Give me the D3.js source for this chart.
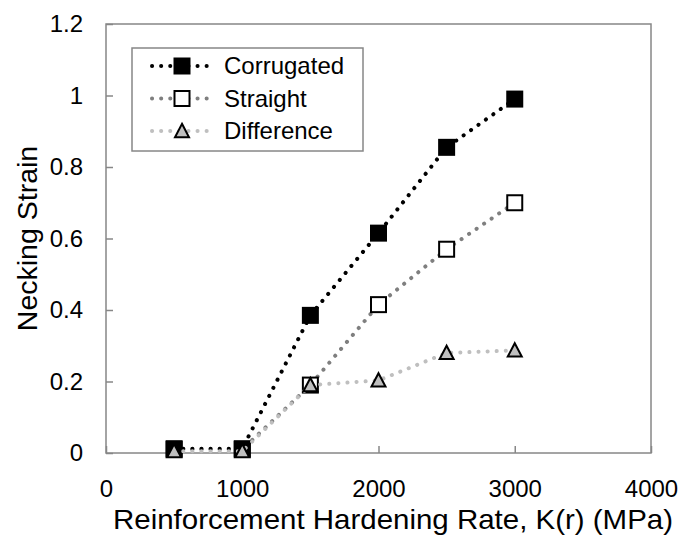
<!DOCTYPE html>
<html>
<head>
<meta charset="utf-8">
<script src="https://cdn.jsdelivr.net/npm/d3@7/dist/d3.min.js"></script>
<style>
  html, body { margin: 0; padding: 0; background: #fff; }
  svg { display: block; }
  text { font-family: "Liberation Sans", Arial, sans-serif; fill: #000; }
</style>
</head>
<body>
<svg id="chart" width="681" height="537"></svg>
<script>
// ---- data ----
const kValues = [500, 1000, 1500, 2000, 2500, 3000];
const corrugated = [0.012, 0.012, 0.385, 0.615, 0.855, 0.99];
const straight = [0.01, 0.01, 0.19, 0.415, 0.57, 0.70];
const difference = [0.005, 0.005, 0.19, 0.203, 0.28, 0.287];
const seriesNames = ["Corrugated", "Straight", "Difference"];
const xTicks = [0, 1000, 2000, 3000, 4000];
const yTicks = [0, 0.2, 0.4, 0.6, 0.8, 1, 1.2];
const xTitle = "Reinforcement Hardening Rate, K(r) (MPa)";
const yTitle = "Necking Strain";

// ---- layout ----
const svg = d3.select("#chart");
const plotLeft = 106, plotRight = 651, plotTop = 24, plotBottom = 453;
const x = d3.scaleLinear().domain([0, 4000]).range([plotLeft, plotRight]);
const y = d3.scaleLinear().domain([0, 1.2]).range([plotBottom, plotTop]);
const frameColor = "#878787";

const styles = {
  Corrugated: { line: "#000000", marker: "square", fill: "#000000" },
  Straight:   { line: "#7f7f7f", marker: "square", fill: "#ffffff" },
  Difference: { line: "#bfbfbf", marker: "triangle", fill: "#bfbfbf" }
};
const dataBy = { Corrugated: corrugated, Straight: straight, Difference: difference };

// axes
const xAxis = d3.axisBottom(x).tickValues(xTicks).tickSize(-7).tickPadding(27).tickFormat(d3.format("d"));
const yAxis = d3.axisLeft(y).tickValues(yTicks).tickSize(-7).tickPadding(23).tickFormat(d => String(+d.toFixed(1)));

const gx = svg.append("g").attr("transform", `translate(0,${plotBottom})`).call(xAxis);
const gy = svg.append("g").attr("transform", `translate(${plotLeft},0)`).call(yAxis);
[gx, gy].forEach(g => {
  g.select(".domain").remove();
  g.selectAll(".tick line").attr("stroke", frameColor).attr("stroke-width", 1.5);
  g.selectAll(".tick text").style("font-family", '"Liberation Sans", Arial, sans-serif')
    .style("font-size", "24px").attr("fill", "#000");
});
gx.selectAll(".tick text").attr("dy", "0.71em");

// frame
svg.append("rect").attr("x", plotLeft).attr("y", plotTop).attr("width", plotRight - plotLeft).attr("height", plotBottom - plotTop)
  .attr("fill", "none").attr("stroke", frameColor).attr("stroke-width", 1.5);

// titles
svg.append("text").attr("x", 393).attr("y", 529).attr("text-anchor", "middle")
  .style("font-size", "28.5px").attr("textLength", 560).attr("lengthAdjust", "spacingAndGlyphs").text(xTitle);
svg.append("text").attr("transform", `translate(37,238.5) rotate(-90)`)
  .attr("text-anchor", "middle").style("font-size", "28.5px").text(yTitle);

// marker drawing
function drawMarker(g, type, cx, cy, fill) {
  if (type === "square") {
    const s = 15;
    g.append("rect").attr("x", cx - s / 2).attr("y", cy - s / 2).attr("width", s).attr("height", s)
      .attr("fill", fill).attr("stroke", "#000").attr("stroke-width", 2);
  } else {
    const s = 14;
    const h = s * 0.88;
    g.append("path")
      .attr("d", `M${cx},${cy - h / 2 - 1} L${cx + s / 2},${cy + h / 2} L${cx - s / 2},${cy + h / 2} Z`)
      .attr("fill", fill).attr("stroke", "#000").attr("stroke-width", 2).attr("stroke-linejoin", "miter");
  }
}

const line = d3.line().x((d, i) => x(kValues[i])).y(d => y(d));
const drawOrder = ["Straight", "Corrugated", "Difference"];
drawOrder.forEach(name => {
  const st = styles[name];
  const g = svg.append("g");
  g.append("path").datum(dataBy[name]).attr("d", line).attr("fill", "none")
    .attr("stroke", st.line).attr("stroke-width", 4).attr("stroke-linecap", "round")
    .attr("stroke-dasharray", "0.1 9");
  dataBy[name].forEach((v, i) => drawMarker(g, st.marker, x(kValues[i]), y(v), st.fill));
});

// legend
const lg = svg.append("g");
lg.append("rect").attr("x", 132).attr("y", 48).attr("width", 231).attr("height", 103)
  .attr("fill", "#fff").attr("stroke", frameColor).attr("stroke-width", 1.5);
seriesNames.forEach((name, i) => {
  const st = styles[name];
  const cy = 66 + i * 32.5;
  lg.append("line").attr("x1", 152).attr("x2", 212).attr("y1", cy).attr("y2", cy)
    .attr("stroke", st.line).attr("stroke-width", 4).attr("stroke-linecap", "round")
    .attr("stroke-dasharray", "0.1 9");
  drawMarker(lg, st.marker, 182, cy, st.fill);
  lg.append("text").attr("x", 224).attr("y", cy).attr("dy", "0.35em")
    .style("font-size", "24px").text(name);
});
</script>
</body>
</html>
